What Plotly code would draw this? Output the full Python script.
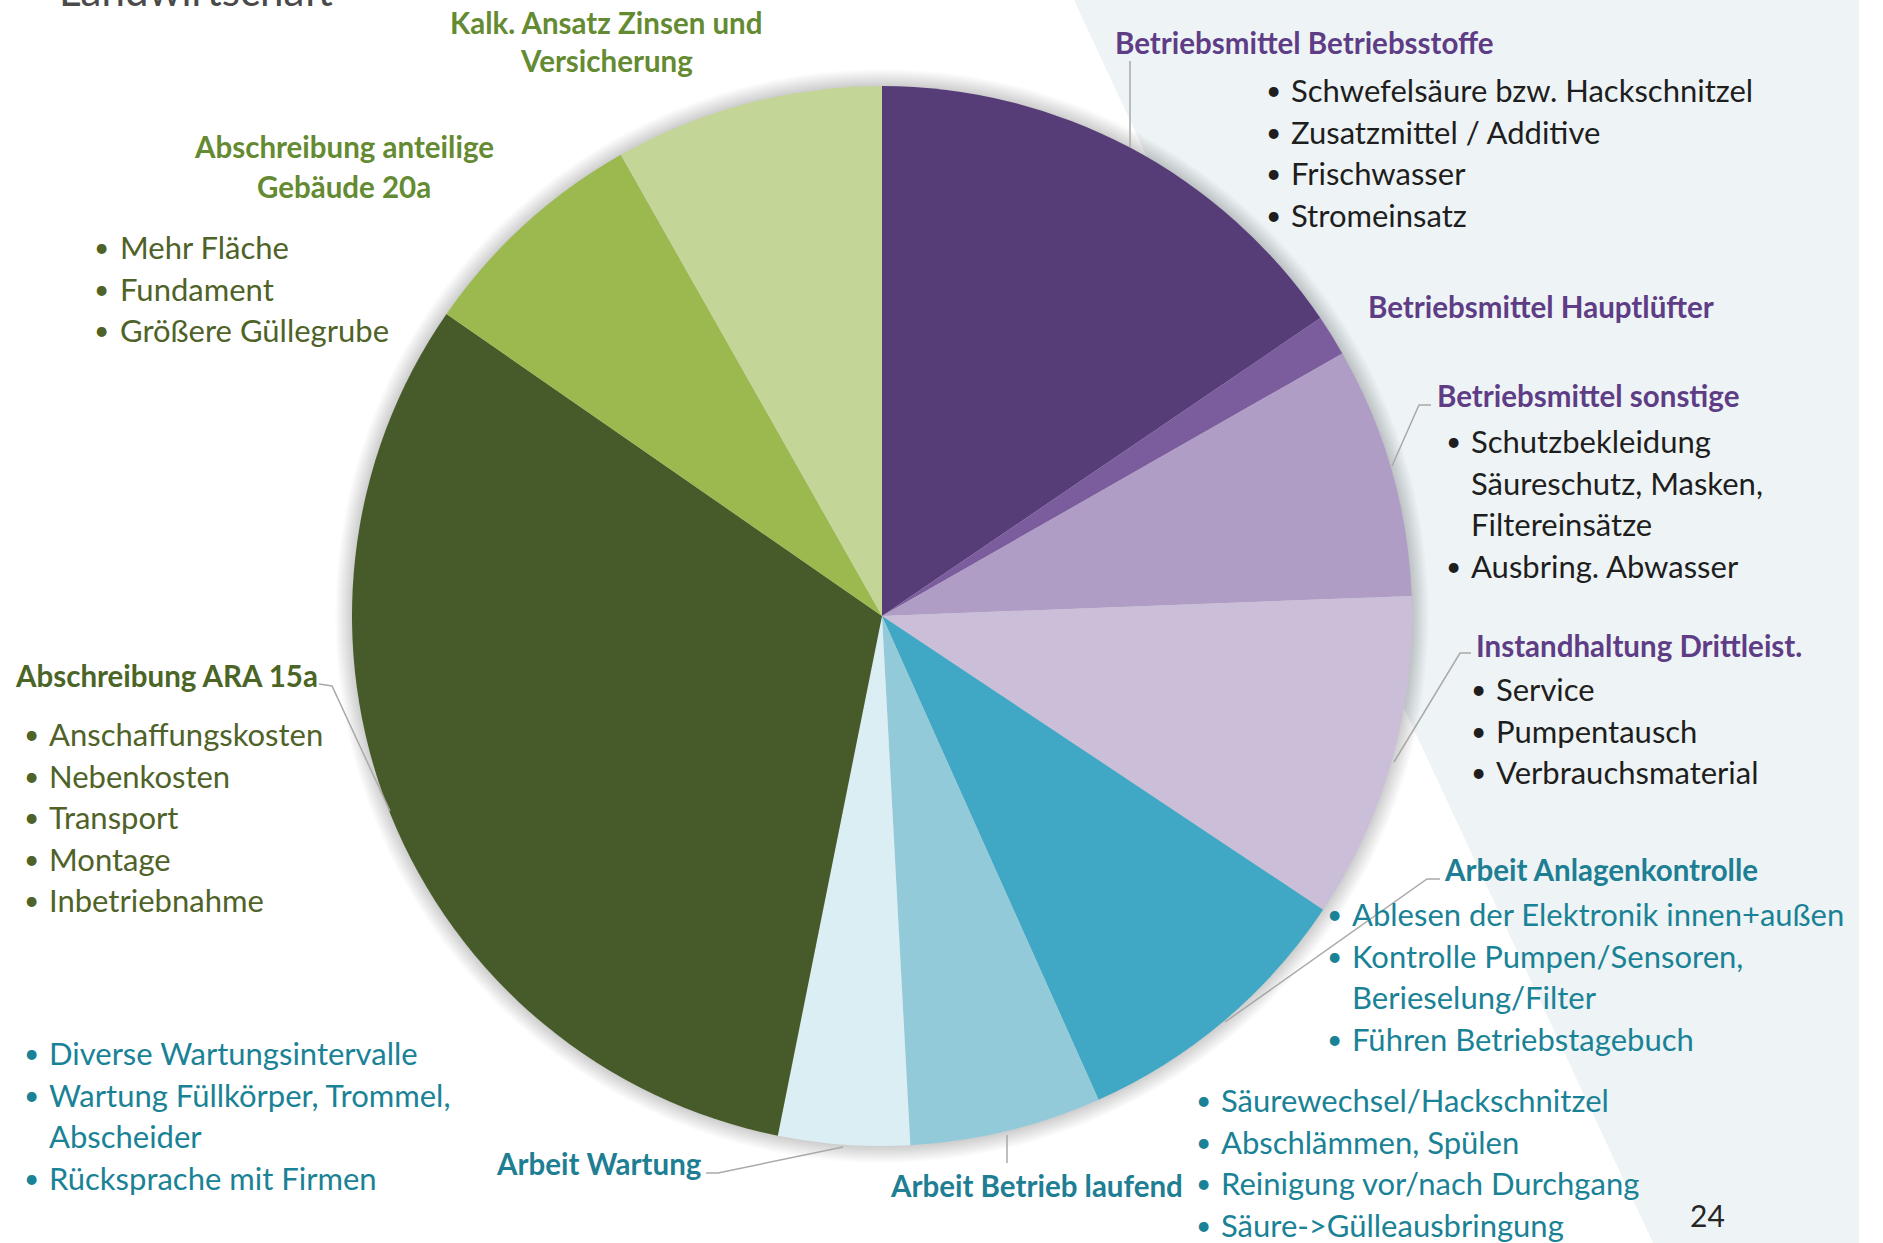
import plotly.graph_objects as go

# ---------------- data ----------------
categories = [
    "Betriebsmittel Betriebsstoffe",
    "Betriebsmittel Hauptlüfter",
    "Betriebsmittel sonstige",
    "Instandhaltung Drittleist.",
    "Arbeit Anlagenkontrolle",
    "Arbeit Betrieb laufend",
    "Arbeit Wartung",
    "Abschreibung ARA 15a",
    "Abschreibung anteilige Gebäude 20a",
    "Kalk. Ansatz Zinsen und Versicherung",
]
shares = [15.5, 1.25, 7.65, 9.95, 8.95, 5.85, 4.0, 31.5, 7.15, 8.2]
slice_colors = ["#573D78", "#7B5D9E", "#AF9DC5", "#CBBED9", "#40A8C5",
                "#93CADA", "#DBEEF4", "#475B2A", "#9BB94F", "#C3D597"]

title_kalk = ["Kalk. Ansatz Zinsen und", "Versicherung"]
title_gebaeude = ["Abschreibung anteilige", "Gebäude 20a"]
bullets_gebaeude = ["Mehr Fläche", "Fundament", "Größere Güllegrube"]
bullets_ara = ["Anschaffungskosten", "Nebenkosten", "Transport", "Montage", "Inbetriebnahme"]
bullets_wartung = ["Diverse Wartungsintervalle",
                   ["Wartung Füllkörper, Trommel,", "Abscheider"],
                   "Rücksprache mit Firmen"]
bullets_laufend = ["Säurewechsel/Hackschnitzel", "Abschlämmen, Spülen",
                   "Reinigung vor/nach Durchgang", "Säure->Gülleausbringung"]
bullets_anlagen = ["Ablesen der Elektronik innen+außen",
                   ["Kontrolle Pumpen/Sensoren,", "Berieselung/Filter"],
                   "Führen Betriebstagebuch"]
bullets_stoffe = ["Schwefelsäure bzw. Hackschnitzel", "Zusatzmittel / Additive",
                  "Frischwasser", "Stromeinsatz"]
bullets_sonstige = [["Schutzbekleidung", "Säureschutz, Masken,", "Filtereinsätze"],
                    "Ausbring. Abwasser"]
bullets_instand = ["Service", "Pumpentausch", "Verbrauchsmaterial"]
page_number = "24"
header_text = "Landwirtschaft"

# ---------------- geometry / style ----------------
W, H = 1883, 1243
CX, CY, R = 882, 616, 530
FONT = "Lato"
BSIZE = 31      # bullet text size
TSIZE = 29.5    # title size
DY = 41.6       # line spacing

C_GREEN_T = "#648A32"
C_GREEN_D = "#4B6526"
C_GREEN_B = "#4F6228"
C_PURPLE = "#5E3D86"
C_BLACK = "#1E1E1E"
C_TEAL_T = "#1E7E93"
C_TEAL_B = "#1A8296"
C_LINE = "#A9A9A9"


def px(x):
    return x / W


def py(y):
    return 1 - y / H


fig = go.Figure()
fig.add_trace(go.Pie(
    labels=categories, values=shares, sort=False, direction="clockwise",
    rotation=0, textinfo="none", hoverinfo="label+percent",
    marker=dict(colors=slice_colors, line=dict(width=0)),
    domain=dict(x=[px(CX - R), px(CX + R)], y=[py(CY + R), py(CY - R)]),
    showlegend=False,
))

shapes = []
# light background panel on the right
shapes.append(dict(type="path", xref="paper", yref="paper", layer="below",
                   path=f"M {px(1074)} {py(0)} L {px(1859)} {py(0)} L {px(1859)} {py(H)} L {px(1653)} {py(H)} Z",
                   fillcolor="#EEF4F5", line=dict(width=0)))
# soft shadow around pie
for i in range(12, 0, -1):
    rr = R + i * 1.4
    shapes.append(dict(type="circle", xref="paper", yref="paper", layer="below",
                       x0=px(CX - rr), x1=px(CX + rr), y0=py(CY + rr), y1=py(CY - rr),
                       fillcolor="rgba(0,0,0,0.016)", line=dict(width=0)))


def leader(points):
    d = "M " + " L ".join(f"{px(x)} {py(y)}" for x, y in points)
    shapes.append(dict(type="path", xref="paper", yref="paper", path=d,
                       line=dict(color=C_LINE, width=1.5)))


leader([(1130, 61), (1130, 147)])
leader([(1431, 405), (1419, 405), (1392, 466)])
leader([(1471, 653), (1460, 653), (1394, 762)])
leader([(1440, 879), (1427, 879), (1225, 1022)])
leader([(1007, 1135), (1007, 1163)])
leader([(706, 1173), (718, 1173), (843, 1147)])
leader([(319, 684), (332, 686), (390, 811)])

annotations = []


def text(x, y, s, size, color, bold=False, xanchor="left"):
    annotations.append(dict(
        x=px(x), y=py(y), xref="paper", yref="paper", showarrow=False,
        text=f"<b>{s}</b>" if bold else s, xanchor=xanchor, yanchor="middle",
        borderpad=0, font=dict(family=FONT, size=size, color=color)))


def bullets(xb, xt, y0, items, color):
    y = y0
    for it in items:
        lines = it if isinstance(it, list) else [it]
        text(xb, y, "•", BSIZE * 0.85, color, xanchor="center")
        for ln in lines:
            text(xt, y, ln, BSIZE, color)
            y += DY


# titles
for i, ln in enumerate(title_kalk):
    text(606, 22 + i * 38.4, ln, TSIZE, C_GREEN_T, bold=True, xanchor="center")
for i, ln in enumerate(title_gebaeude):
    text(344, 146.5 + i * 39.5, ln, TSIZE, C_GREEN_T, bold=True, xanchor="center")
text(14, 675, categories[7], TSIZE, C_GREEN_D, bold=True)
text(1114, 42, categories[0], TSIZE, C_PURPLE, bold=True)
text(1367, 307, categories[1], TSIZE, C_PURPLE, bold=True)
text(1436, 395, categories[2], TSIZE, C_PURPLE, bold=True)
text(1475, 645, categories[3], TSIZE, C_PURPLE, bold=True)
text(1443, 869.5, categories[4], TSIZE, C_TEAL_T, bold=True)
text(889, 1185, categories[5], TSIZE, C_TEAL_T, bold=True)
text(703, 1163, categories[6], TSIZE, C_TEAL_T, bold=True, xanchor="right")

# bullet lists
bullets(101, 119, 247, bullets_gebaeude, C_GREEN_B)
bullets(31, 48, 734, bullets_ara, C_GREEN_B)
bullets(31, 48, 1053, bullets_wartung, C_TEAL_B)
bullets(1203, 1220, 1100, bullets_laufend, C_TEAL_B)
bullets(1334, 1351, 914, bullets_anlagen, C_TEAL_B)
bullets(1273, 1290, 90, bullets_stoffe, C_BLACK)
bullets(1453, 1470, 441, bullets_sonstige, C_BLACK)
bullets(1478, 1495, 689, bullets_instand, C_BLACK)

# page number and (cut-off, as in the original slide) header
text(1707, 1215, page_number, 30, "#262626", xanchor="center")
annotations.append(dict(x=px(57), y=py(17), xref="paper", yref="paper", showarrow=False,
                        text=header_text, xanchor="left", yanchor="bottom",
                        font=dict(family=FONT, size=42, color="#4A4A4A")))

fig.update_layout(
    width=W, height=H, margin=dict(l=0, r=0, t=0, b=0),
    paper_bgcolor="white", plot_bgcolor="white",
    shapes=shapes, annotations=annotations, showlegend=False,
)
fig.write_html("out.html", config={"displayModeBar": False},
               post_script="document.body.style.margin='0';document.body.style.overflow='hidden';")
